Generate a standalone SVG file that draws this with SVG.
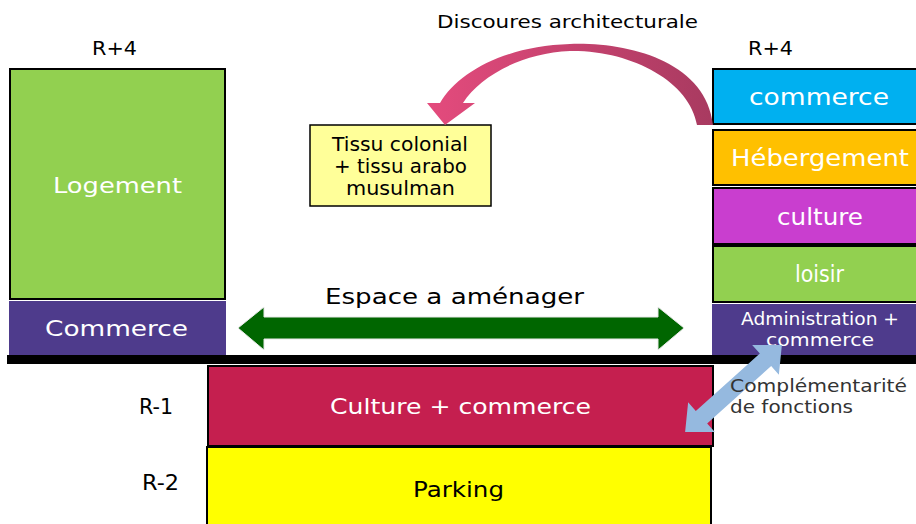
<svg xmlns="http://www.w3.org/2000/svg" width="916" height="524" viewBox="0 0 916 524">
<defs>
<linearGradient id="pinkGrad" x1="0" y1="0" x2="1" y2="0">
<stop offset="0" stop-color="#E44B7D"/>
<stop offset="1" stop-color="#A83A60"/>
</linearGradient>
<style>
text{font-family:"DejaVu Sans","Liberation Sans",sans-serif;}
.blk{fill:#000;}
.wht{fill:#fff;}
.box{stroke:#000;stroke-width:2;}
</style>
</defs>
<rect width="916" height="524" fill="#fff"/>

<g id="logement">
<rect class="box" x="10" y="69" width="215" height="230" fill="#92D050"/>
<text class="wht" x="53" y="193" font-size="22" textLength="129" lengthAdjust="spacingAndGlyphs">Logement</text>
</g>
<g id="commerce-left">
<rect x="9" y="301" width="217" height="54" fill="#4E3B8C"/>
<text class="wht" x="45" y="336" font-size="22" textLength="143" lengthAdjust="spacingAndGlyphs">Commerce</text>
</g>

<g id="tissu">
<rect x="310" y="125" width="181" height="81" fill="#FFFF99" stroke="#000" stroke-width="1.5"/>
<text class="blk" x="332" y="151" font-size="19" textLength="136" lengthAdjust="spacingAndGlyphs">Tissu colonial</text>
<text class="blk" x="334" y="173" font-size="19" textLength="133" lengthAdjust="spacingAndGlyphs">+ tissu arabo</text>
<text class="blk" x="346" y="195" font-size="19" textLength="109" lengthAdjust="spacingAndGlyphs">musulman</text>
</g>

<g id="commerce-right">
<rect class="box" x="713" y="69" width="205" height="55" fill="#00B0F0"/>
<text class="wht" x="749" y="105" font-size="23" textLength="140" lengthAdjust="spacingAndGlyphs">commerce</text>
</g>
<g id="hebergement">
<rect class="box" x="713" y="130" width="205" height="55" fill="#FFC000"/>
<text class="wht" x="731" y="166" font-size="23" textLength="178" lengthAdjust="spacingAndGlyphs">Hébergement</text>
</g>
<g id="culture-right">
<rect class="box" x="713" y="188" width="205" height="56" fill="#C93ECF"/>
<text class="wht" x="777" y="225" font-size="23" textLength="86" lengthAdjust="spacingAndGlyphs">culture</text>
</g>
<g id="loisir">
<rect class="box" x="713" y="246" width="205" height="56" fill="#92D050"/>
<text class="wht" x="795" y="282" font-size="23" textLength="49" lengthAdjust="spacingAndGlyphs">loisir</text>
</g>
<g id="administration">
<rect x="712" y="304" width="204" height="51" fill="#4E3B8C"/>
<text class="wht" x="741" y="325" font-size="17" textLength="158" lengthAdjust="spacingAndGlyphs">Administration +</text>
<text class="wht" x="766" y="346" font-size="17" textLength="108" lengthAdjust="spacingAndGlyphs">commerce</text>
</g>

<g id="floor">
<rect x="7" y="355" width="909" height="9" fill="#000"/>
</g>

<g id="culture-commerce">
<rect class="box" x="208" y="366" width="505" height="80" fill="#C51F4F"/>
<text class="wht" x="330" y="414" font-size="22" textLength="261" lengthAdjust="spacingAndGlyphs">Culture + commerce</text>
</g>
<g id="parking">
<rect class="box" x="207" y="447" width="504" height="82" fill="#FFFF00"/>
<text class="blk" x="413" y="497" font-size="22" textLength="91" lengthAdjust="spacingAndGlyphs">Parking</text>
</g>

<g id="connectors">
<path d="M713 125 C706 62 630 42 570 44 C505 46 458 72 440 103 L427 103 L445 125 L475 103 L463 103 C480 76 522 53 570 51 C632 50 690 82 697 125 Z" fill="url(#pinkGrad)"/>
<path d="M238 328 L264 307 L264 317 L658 317 L658 307 L684 328 L658 350 L658 339 L264 339 L264 350 Z" fill="#006600" stroke="#e8e8e8" stroke-width="1"/>
<path d="M-65 0 L-43 -20 L-43 -8.5 L43 -8.5 L43 -20 L65 0 L43 20 L43 8.5 L-43 8.5 L-43 20 Z" transform="translate(733.5 388.5) rotate(-41.9)" fill="#95B9DF"/>
</g>

<g id="labels">
<text class="blk" x="437" y="28" font-size="18" textLength="261" lengthAdjust="spacingAndGlyphs">Discoures architecturale</text>
<text class="blk" x="92" y="55" font-size="19" textLength="45" lengthAdjust="spacingAndGlyphs">R+4</text>
<text class="blk" x="748" y="55" font-size="19" textLength="45" lengthAdjust="spacingAndGlyphs">R+4</text>
<text class="blk" x="325" y="304" font-size="21" textLength="259" lengthAdjust="spacingAndGlyphs">Espace a aménager</text>
<text class="blk" x="139" y="414" font-size="21" textLength="34" lengthAdjust="spacingAndGlyphs">R-1</text>
<text class="blk" x="142" y="490" font-size="21" textLength="37" lengthAdjust="spacingAndGlyphs">R-2</text>
<text fill="#333" x="730" y="392" font-size="18" textLength="177" lengthAdjust="spacingAndGlyphs">Complémentarité</text>
<text fill="#333" x="730" y="413" font-size="18" textLength="123" lengthAdjust="spacingAndGlyphs">de fonctions</text>
</g>
</svg>
